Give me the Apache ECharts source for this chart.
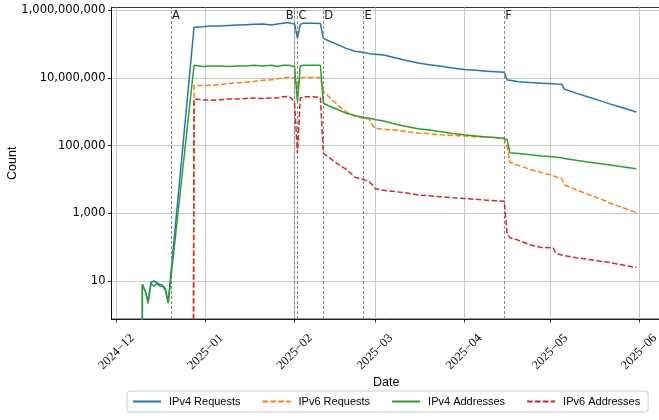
<!DOCTYPE html>
<html><head><meta charset="utf-8">
<script src="https://cdn.jsdelivr.net/npm/echarts@6/dist/echarts.min.js"></script>
<style>html,body{margin:0;padding:0;background:#fff}#c{width:659px;height:420px}</style>
</head><body><div id="c"></div>
<script>
const dates = ['2024-12-09','2024-12-10','2024-12-11','2024-12-12','2024-12-13','2024-12-14','2024-12-15','2024-12-16','2024-12-17','2024-12-18','2024-12-19','2024-12-28','2024-12-31',
'2025-01-03','2025-01-06','2025-01-09','2025-01-12','2025-01-15','2025-01-18','2025-01-21','2025-01-24','2025-01-26','2025-01-28','2025-01-30','2025-01-31',
'2025-02-01','2025-02-02','2025-02-03','2025-02-04','2025-02-07','2025-02-10','2025-02-11','2025-02-13','2025-02-16','2025-02-19','2025-02-22','2025-02-25','2025-02-27','2025-02-28',
'2025-03-01','2025-03-04','2025-03-08','2025-03-12','2025-03-16','2025-03-20','2025-03-24','2025-03-28',
'2025-04-01','2025-04-05','2025-04-09','2025-04-12','2025-04-15','2025-04-16','2025-04-17','2025-04-20','2025-04-24','2025-04-28',
'2025-05-02','2025-05-03','2025-05-05','2025-05-06','2025-05-10','2025-05-14','2025-05-18','2025-05-22','2025-05-26','2025-05-31'];

const ipv4Requests = [0,8,5,2.5,9,10,9,8,7.5,6,2.3,3.2e8,3.3e8,
3.5e8,3.5e8,3.6e8,3.7e8,3.8e8,3.9e8,4.0e8,3.7e8,4.0e8,4.2e8,4.4e8,4.1e8,
4.0e8,1.5e8,3.9e8,4.2e8,4.2e8,4.1e8,1.5e8,1.25e8,9.8e7,7.6e7,6.2e7,5.7e7,5.3e7,5.2e7,
5.1e7,4.8e7,4.0e7,3.3e7,2.8e7,2.5e7,2.25e7,2.0e7,
1.8e7,1.7e7,1.6e7,1.55e7,1.48e7,8.8e6,8.6e6,7.8e6,7.4e6,7.1e6,
6.8e6,6.7e6,6.6e6,4.7e6,3.6e6,2.8e6,2.2e6,1.7e6,1.35e6,1.0e6];

const ipv6Requests = [0,0,0,0,0,0,0,0,0,0,0,6.0e6,6.0e6,
6.2e6,6.4e6,6.9e6,7.3e6,7.6e6,8.1e6,8.7e6,8.9e6,9.6e6,1.03e7,1.05e7,1.03e7,
1.0e7,5.0e6,1.0e7,1.05e7,1.05e7,1.05e7,4.0e6,2.8e6,1.6e6,1.0e6,7.4e5,6.5e5,6.2e5,4.2e5,
3.3e5,3.1e5,2.9e5,2.6e5,2.4e5,2.25e5,2.1e5,2.0e5,
1.95e5,1.85e5,1.8e5,1.72e5,1.6e5,9.3e4,3.2e4,2.6e4,2.0e4,1.6e4,
1.3e4,1.2e4,1.07e4,6.9e3,5.0e3,3.7e3,2.8e3,2.0e3,1.5e3,1.05e3];

const ipv4Addresses = [0,8,5,2.2,8.5,7,8.5,7,7,5.5,2.2,2.4e7,2.2e7,
2.3e7,2.3e7,2.2e7,2.3e7,2.3e7,2.4e7,2.3e7,2.4e7,2.2e7,2.4e7,2.4e7,2.3e7,
2.2e7,2.0e6,2.3e7,2.4e7,2.4e7,2.4e7,1.8e6,1.5e6,1.18e6,9.1e5,7.9e5,6.8e5,6.5e5,6.3e5,
6.0e5,5.4e5,4.4e5,3.7e5,3.2e5,2.9e5,2.6e5,2.3e5,
2.1e5,1.95e5,1.8e5,1.74e5,1.66e5,1.5e5,6.2e4,5.9e4,5.4e4,5.0e4,
4.7e4,4.6e4,4.4e4,4.2e4,3.7e4,3.3e4,3.0e4,2.7e4,2.4e4,2.1e4];

const ipv6Addresses = [0,0,0,0,0,0,0,0,0,0,0,2.4e6,2.3e6,
2.2e6,2.3e6,2.4e6,2.4e6,2.5e6,2.6e6,2.5e6,2.6e6,2.6e6,2.8e6,2.9e6,2.5e6,
1.8e6,6.0e4,2.6e6,2.8e6,2.8e6,2.7e6,6.0e4,4.5e4,2.9e4,2.0e4,1.17e4,1.0e4,8.5e3,7.1e3,
5.4e3,4.8e3,4.4e3,4.0e3,3.5e3,3.3e3,3.1e3,2.9e3,
2.75e3,2.6e3,2.45e3,2.35e3,2.3e3,250,190,160,118,98,
95,66,59,56,49,44,39,35,30,25];

const xTickDates = ['2024-12-01','2025-01-01','2025-02-01','2025-03-01','2025-04-01','2025-05-01','2025-06-01'];
const xTickLabels = ['2024\u221212','2025\u221201','2025\u221202','2025\u221203','2025\u221204','2025\u221205','2025\u221206'];
const yTickValues = [10, 1000, 100000, 10000000, 1000000000];
const yTickLabels = ['10','1,000','100,000','10,000,000','1,000,000,000'];
const eventDates = ['2024-12-20','2025-02-01','2025-02-02','2025-02-11','2025-02-25','2025-04-15'];
const eventLabels = ['A','B','C','D','E','F'];
const seriesNames = ['IPv4 Requests','IPv6 Requests','IPv4 Addresses','IPv6 Addresses'];

const DAY = 86400000;
const ts = s => { const p = s.split('-').map(Number); return new Date(p[0], p[1]-1, p[2]).getTime(); };
const toPlot = v => (v > 0 ? v : 1e-300); // zero counts fall far below the log axis, as when clipped
const xTickTs = xTickDates.map(ts);
const base = ts('2024-12-01');
const xMin = base - 1.741 * DAY;
const xMax = base + 189.59 * DAY;

const defs = [
  {values: ipv4Requests, color: '#1f77b4', dash: 'solid'},
  {values: ipv6Requests, color: '#ff7f0e', dash: [5.5, 2.4]},
  {values: ipv4Addresses, color: '#2ca02c', dash: 'solid'},
  {values: ipv6Addresses, color: '#d62728', dash: [5.5, 2.4]}
];
const series = defs.map((s, i) => ({
  type: 'line', name: seriesNames[i], symbol: 'none', showSymbol: false,
  data: dates.map((d, j) => [ts(d), toPlot(s.values[j])]),
  lineStyle: {color: s.color, width: 1.5, type: s.dash},
  itemStyle: {color: s.color},
  z: 3 + i, clip: true, silent: true
}));
series[0].markLine = {
  silent: true, symbol: ['none', 'none'], animation: false,
  lineStyle: {color: '#7a7a7a', width: 0.9, type: [3, 2]},
  emphasis: {disabled: true},
  label: {show: true, position: 'end', formatter: '{b}', color: '#222', fontSize: 11.5,
    fontFamily: 'DejaVu Sans', align: 'left', verticalAlign: 'top', distance: [0, -3], padding: [0, 0, 0, 1]},
  data: eventDates.map((d, i) => {
    const item = {xAxis: ts(d), name: eventLabels[i]};
    if (eventLabels[i] === 'B') item.label = {align: 'right', padding: [0, 1, 0, 0]};
    return item;
  })
};

const nearestIdx = (arr, v, f) => { let b = 0, bd = Infinity; arr.forEach((a, i) => { const dd = Math.abs(f(a) - f(v)); if (dd < bd) { bd = dd; b = i; } }); return b; };

const chart = echarts.init(document.getElementById('c'), null, {renderer: 'canvas'});
chart.setOption({
  animation: false,
  backgroundColor: '#fff',
  grid: {left: 111.5, right: -2, top: 7.5, bottom: 101, show: true, borderColor: '#000', borderWidth: 0.8, containLabel: false, outerBoundsMode: 'none'},
  xAxis: {
    type: 'value', min: xMin, max: xMax, scale: true,
    name: 'Date', nameLocation: 'middle', nameGap: 57, nameMoveOverlap: false,
    nameTextStyle: {fontFamily: 'Liberation Sans', fontSize: 12.5, color: '#000'},
    axisLine: {show: true, lineStyle: {color: '#000', width: 0.8}},
    axisTick: {show: true, customValues: xTickTs, length: 3.5, lineStyle: {color: '#000', width: 0.8}},
    axisLabel: {show: true, customValues: xTickTs, rotate: 45, align: 'center', verticalAlign: 'middle', margin: 33,
      formatter: v => xTickLabels[nearestIdx(xTickTs, v, a => a)],
      fontFamily: 'Liberation Serif', fontSize: 12.5, color: '#000'},
    splitLine: {show: true, lineStyle: {color: '#c8c8c8', width: 1}},
    minorTick: {show: false}, minorSplitLine: {show: false}
  },
  yAxis: {
    type: 'log', logBase: 10, min: 0.751, max: 1.227e9,
    name: 'Count', nameLocation: 'middle', nameGap: 92, nameMoveOverlap: false,
    nameTextStyle: {fontFamily: 'Liberation Sans', fontSize: 12.5, color: '#000'},
    axisLine: {show: true, lineStyle: {color: '#000', width: 0.8}},
    axisTick: {show: true, customValues: yTickValues, length: 3.5, lineStyle: {color: '#000', width: 0.8}},
    axisLabel: {show: true, customValues: yTickValues, margin: 6,
      formatter: v => yTickLabels[nearestIdx(yTickValues, v, a => Math.log10(a))],
      fontFamily: 'DejaVu Sans', fontSize: 11.5, color: '#000'},
    splitLine: {show: true, lineStyle: {color: '#c8c8c8', width: 1}},
    minorTick: {show: false}, minorSplitLine: {show: false}
  },
  legend: {
    left: 127, top: 391, orient: 'horizontal',
    itemWidth: 28, itemHeight: 10, itemGap: 21,
    padding: [5, 8, 5, 5],
    borderColor: '#cccccc', borderWidth: 1, borderRadius: 3, backgroundColor: '#fff',
    itemStyle: {opacity: 0},
    textStyle: {fontFamily: 'Liberation Sans', fontSize: 11, color: '#000', padding: [0, 0, 0, 3]},
    data: seriesNames
  },
  series: series
});
</script>
</body></html>
